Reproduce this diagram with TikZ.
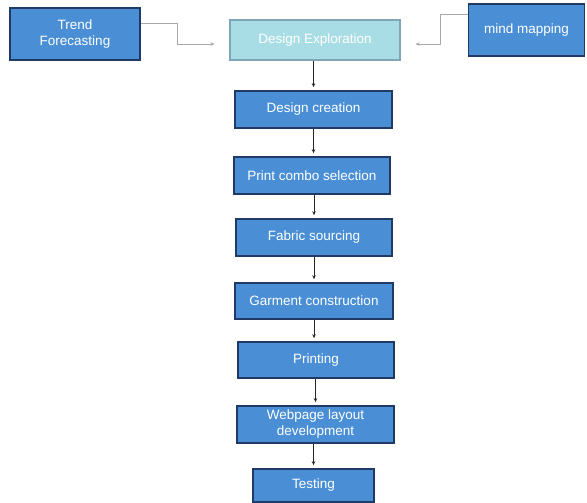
\documentclass[tikz,border=0pt]{standalone}
\usepackage{fontspec}
\setmainfont{Liberation Sans}
\usetikzlibrary{arrows.meta}
\definecolor{boxblue}{HTML}{4A8FD6}
\definecolor{boxedge}{HTML}{1F3A63}
\definecolor{lightfill}{HTML}{A9DDE5}
\definecolor{lightedge}{HTML}{7FA6B8}
\definecolor{conngrey}{HTML}{A8A8A8}
\begin{document}
\begin{tikzpicture}[x=1pt,y=-1pt,
  bluebox/.style={draw=boxedge,line width=1.6pt,fill=boxblue,text=white,
    font=\fontsize{13.5}{16}\selectfont,align=center,inner sep=1pt},
  lightbox/.style={draw=lightedge,line width=1.2pt,fill=lightfill,text=white,
    font=\fontsize{13.5}{16}\selectfont,align=center,inner sep=1pt},
  flowarrow/.style={draw=black!85,line width=0.7pt,-{Stealth[length=4pt,width=3.5pt]},shorten >=3pt},
  sidearrow/.style={draw=conngrey,line width=0.8pt,-{Stealth[length=4pt,width=3.5pt]},shorten >=15pt}]
\useasboundingbox (0,0) rectangle (587,503);
\node[bluebox,minimum width=130pt,minimum height=52pt] (trend) at (75,34) {Trend\\Forecasting};
\node[lightbox,minimum width=170pt,minimum height=40pt] (explore) at (315,40) {Design Exploration};
\node[bluebox,minimum width=116pt,minimum height=52pt] (mind) at (526.5,30) {mind mapping};
\node[bluebox,minimum width=157pt,minimum height=37pt] (create) at (313.5,109.5) {Design creation};
\node[bluebox,minimum width=156pt,minimum height=37pt] (combo) at (312,175.5) {Print combo selection};
\node[bluebox,minimum width=156pt,minimum height=37pt] (fabric) at (314,237.5) {Fabric sourcing};
\node[bluebox,minimum width=158pt,minimum height=36pt] (garment) at (314,301) {Garment construction};
\node[bluebox,minimum width=156pt,minimum height=36pt] (printing) at (316,360) {Printing};
\node[bluebox,minimum width=157pt,minimum height=37pt] (webpage) at (315.5,424.5) {Webpage layout\\development};
\node[bluebox,minimum width=121pt,minimum height=33pt] (testing) at (313.5,485.5) {Testing};
\coordinate (tbend) at (177,44);
\coordinate (mbend) at (440,44);
\draw[sidearrow] ([yshift=11pt]trend.east) -| (tbend) -- (tbend -| explore.west);
\draw[sidearrow] ([yshift=16pt]mind.west) -| (mbend) -- (mbend -| explore.east);
\draw[flowarrow] (explore.south -| create.north) -- (create.north);
\draw[flowarrow] (create.south) -- (create.south |- combo.north);
\draw[flowarrow] (combo.south -| fabric.north) -- (fabric.north);
\draw[flowarrow] (fabric.south) -- (fabric.south |- garment.north);
\draw[flowarrow] (garment.south) -- (garment.south |- printing.north);
\draw[flowarrow] (printing.south -| webpage.north) -- (webpage.north);
\draw[flowarrow] (webpage.south -| testing.north) -- (testing.north);
\end{tikzpicture}
\end{document}
